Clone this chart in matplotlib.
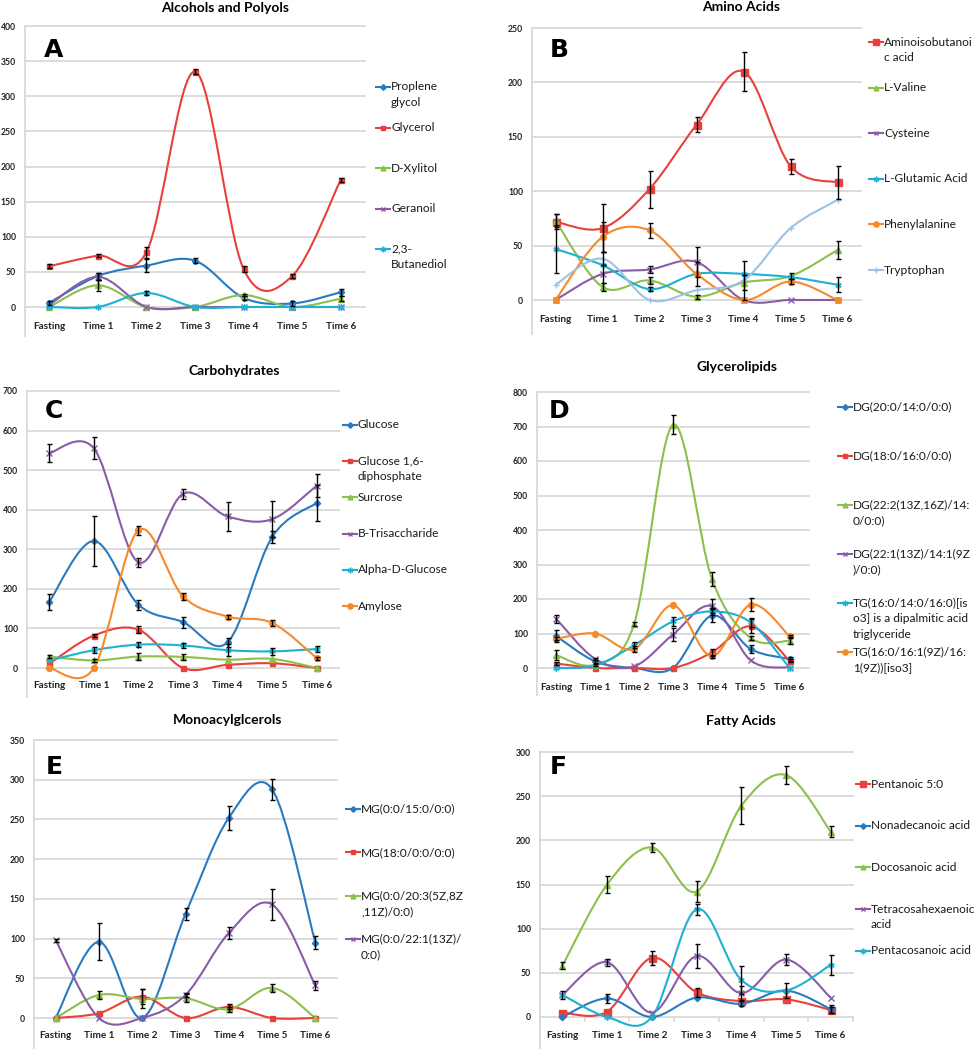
import numpy as np
import matplotlib
matplotlib.use('Agg')
import matplotlib.pyplot as plt
from matplotlib.path import Path
from matplotlib.patches import PathPatch
from matplotlib.lines import Line2D

plt.rcParams['font.family'] = ['Lato', 'DejaVu Sans']

# ---------------------------  DATA  -------------------------------------- #
times = ['Fasting', 'Time 1', 'Time 2', 'Time 3', 'Time 4', 'Time 5', 'Time 6']

# A - Alcohols and Polyols
propylene = [6, 44, 59, 66, 13, 5, 21]
propylene_err = [3, 5, 9, 4, 3, 3, 5]
glycerol = [58, 73, 78, 335, 54, 44, 181]
glycerol_err = [3, 2, 8, 4, 4, 3, 3]
xylitol = [0, 31, 0, 0, 17, 0, 12]
xylitol_err = [0, 8, 0, 0, 2, 0, 3]
geranoil = [3, 43, 0, 0, 0, 0, 0]
geranoil_err = [0, 5, 0, 0, 0, 0, 0]
butanediol = [0, 0, 20, 0, 0, 0, 0]
butanediol_err = [0, 0, 3, 0, 0, 0, 0]

# B - Amino Acids
aminoiso = [72, 66, 102, 161, 210, 123, 108]
aminoiso_err = [7, 22, 17, 7, 18, 7, 15]
valine = [73, 12, 18, 3, 16, 22, 46]
valine_err = [6, 4, 3, 2, 7, 3, 8]
cysteine = [0, 24, 28, 35, 0, 0, 0]
cysteine_err = [0, 8, 3, 14, 0, 0, 0]
glutamic = [47, 32, 10, 24, 24, 21, 14]
glutamic_err = [22, 0, 2, 0, 0, 0, 7]
phenyl = [0, 58, 64, 24, 0, 17, 0]
phenyl_err = [0, 14, 7, 11, 0, 2, 0]
tryptophan = [14, 38, 0, 9, 18, 66, 92]
tryptophan_err = [0, 6, 0, 0, 18, 0, 0]

# C - Carbohydrates
glucose = [167, 321, 160, 116, 65, 331, 417]
glucose_err = [20, 63, 13, 14, 12, 15, 45]
glucose16 = [11, 82, 97, 0, 8, 12, 0]
glucose16_err = [0, 4, 8, 0, 0, 0, 0]
surcrose = [29, 19, 29, 28, 21, 23, 0]
surcrose_err = [3, 3, 8, 8, 0, 0, 0]
btris = [543, 555, 267, 440, 383, 376, 461]
btris_err = [22, 28, 12, 12, 37, 45, 30]
alphaglc = [19, 45, 59, 57, 45, 42, 48]
alphaglc_err = [0, 7, 6, 6, 15, 8, 8]
amylose = [0, 0, 348, 181, 130, 114, 25]
amylose_err = [0, 0, 12, 8, 5, 7, 4]

# D - Glycerolipids
dg1 = [92, 19, 0, 0, 152, 55, 26]
dg1_err = [18, 5, 0, 0, 18, 12, 5]
dg2 = [13, 0, 0, 0, 45, 121, 21]
dg2_err = [3, 0, 0, 0, 10, 20, 5]
dg3 = [37, 10, 128, 705, 259, 87, 79]
dg3_err = [15, 3, 5, 28, 20, 5, 8]
dg4 = [142, 26, 5, 97, 179, 22, 1]
dg4_err = [12, 3, 0, 20, 20, 0, 0]
tg1 = [0, 7, 66, 135, 164, 132, 0]
tg1_err = [0, 0, 8, 14, 10, 12, 0]
tg2 = [85, 100, 55, 182, 34, 184, 92]
tg2_err = [5, 0, 8, 0, 5, 18, 3]

# E - Monoacylglcerols
mg1 = [0, 96, 0, 131, 252, 288, 95]
mg1_err = [0, 23, 0, 8, 15, 13, 8]
mg2 = [0, 6, 27, 0, 14, 0, 0]
mg2_err = [0, 0, 10, 0, 3, 0, 0]
mg3 = [0, 29, 24, 25, 11, 38, 0]
mg3_err = [0, 5, 12, 5, 3, 5, 0]
mg4 = [98, 0, 0, 29, 107, 143, 41]
mg4_err = [2, 0, 0, 3, 8, 20, 6]

# F - Fatty Acids
pentanoic = [5, 6, 67, 28, 18, 20, 8]
pentanoic_err = [0, 0, 8, 5, 0, 0, 3]
nonadec = [0, 21, 0, 22, 15, 30, 9]
nonadec_err = [0, 5, 0, 0, 3, 8, 5]
docos = [58, 150, 192, 142, 239, 274, 210]
docos_err = [4, 10, 5, 12, 21, 10, 6]
tetracos = [25, 62, 5, 69, 27, 65, 22]
tetracos_err = [5, 4, 0, 14, 8, 6, 0]
pentacos = [25, 0, 0, 122, 42, 30, 59]
pentacos_err = [0, 0, 0, 6, 16, 0, 11]

# ---------------------------  STYLE  -------------------------------------- #
BLUE = ('#2A7AC0', 'D')
RED = ('#E8413C', 's')
GREEN = ('#8CC04B', '^')
PURPLE = ('#8A5CA8', 'x')
CYAN = ('#1FB0D2', (6, 2, 0))
ORANGE = ('#F58A2C', 'o')
LIGHT = ('#9CC2E5', '+')
GRID = '#D9D9D9'

W, H = 975, 1050
fig = plt.figure(figsize=(W / 100, H / 100), dpi=100)


def fx(px):
    return px / W


def fy(py):
    return 1 - py / H


def msize(marker, big):
    base = {'D': 3.2, 's': 3.6, '^': 3.8, 'x': 3.8, 'o': 4.2, '+': 4.5}
    s = base.get(marker, 4.5) if isinstance(marker, str) else 4.5
    return s * (1.4 if big and marker == 's' else 1.0)


def smooth(ax, xs, ys, color):
    # Excel-like smoothed line: cubic bezier through every point
    pts = np.column_stack([xs, ys]).astype(float)
    n = len(pts)
    verts = [pts[0]]
    codes = [Path.MOVETO]
    for i in range(n - 1):
        p0 = pts[max(i - 1, 0)]
        p1 = pts[i]
        p2 = pts[i + 1]
        p3 = pts[min(i + 2, n - 1)]
        verts += [p1 + (p2 - p0) / 6, p2 - (p3 - p1) / 6, p2]
        codes += [Path.CURVE4] * 3
    ax.add_patch(PathPatch(Path(verts, codes), fill=False, edgecolor=color,
                           lw=1.5, zorder=3))


def panel(box, ymax, ystep, title, title_xy, letter, letter_xy, series,
          label_px, legend_x, legend_y, legend_gap, ticks=False, big=False):
    left, right, ytop, y0, yb = box
    ppu = (y0 - ytop) / ymax
    ymin = -(yb - y0) / ppu
    ax = fig.add_axes([fx(left), fy(yb), (right - left) / W, (yb - ytop) / H])
    ax.set_xlim(0, len(times))
    ax.set_ylim(ymin, ymax)
    for s in ['top', 'right', 'bottom']:
        ax.spines[s].set_visible(False)
    ax.spines['left'].set_color(GRID)
    ax.spines['left'].set_linewidth(1.3)
    yt = list(range(0, ymax + 1, ystep))
    for v in yt:
        ax.axhline(v, color=GRID, lw=1.3, zorder=1, clip_on=False)
    ax.set_yticks(yt)
    ax.set_yticklabels([str(v) for v in yt], fontsize=6.2, fontweight='bold',
                       color='#222222')
    ax.tick_params(axis='y', length=0, pad=6.5)
    ax.set_xticks([])
    xs = np.arange(len(times)) + 0.5
    for i, t in enumerate(times):
        ax.text(xs[i], (y0 - label_px) / ppu, t, ha='center', va='center',
                fontsize=7.2, fontweight='bold', color='#222222')
    if ticks:
        for i in range(len(times) + 1):
            ax.plot([i, i], [0, -4 / ppu], color=GRID, lw=1.2, clip_on=False)

    for k, (name, vals, errs, style) in enumerate(series):
        color, marker = style
        vals = np.array(vals, float)
        errs = np.array(errs, float)
        smooth(ax, xs, vals, color)
        ax.plot(xs, vals, ls='none', marker=marker, color=color,
                ms=msize(marker, big), mew=1.0, zorder=4)
        m = errs > 0
        ax.errorbar(xs[m], vals[m], yerr=errs[m], fmt='none', ecolor='black',
                    elinewidth=1.0, capsize=1.8, capthick=1.0, zorder=5)
        # legend entry
        ly = legend_y + k * legend_gap
        fig.add_artist(Line2D([fx(legend_x), fx(legend_x + 14)], [fy(ly), fy(ly)],
                              color=color, lw=1.5))
        fig.add_artist(Line2D([fx(legend_x + 7)], [fy(ly)], ls='none',
                              marker=marker, color=color, ms=msize(marker, big) * 0.9,
                              mew=1.0))
        for j, line in enumerate(name.split('\n')):
            fig.text(fx(legend_x + 15), fy(ly + j * 15.8), line, ha='left',
                     va='center', fontsize=8.6, color='#1a1a1a')

    fig.text(fx(title_xy[0]), fy(title_xy[1]), title, ha='center', va='center',
             fontsize=10, fontweight='bold')
    fig.text(fx(letter_xy[0]), fy(letter_xy[1]), letter, ha='center', va='center',
             fontsize=18, fontweight='heavy', family='DejaVu Sans')
    return ax


# ---------------------------  PANELS  -------------------------------------- #
panel((25, 365, 26, 307, 336), 400, 50, 'Alcohols and Polyols', (225, 8),
      'A', (54, 50),
      [('Proplene\nglycol', propylene, propylene_err, BLUE),
       ('Glycerol', glycerol, glycerol_err, RED),
       ('D-Xylitol', xylitol, xylitol_err, GREEN),
       ('Geranoil', geranoil, geranoil_err, PURPLE),
       ('2,3-\nButanediol', butanediol, butanediol_err, CYAN)],
      326, 376, 87, 40.5)

panel((532, 861, 28, 300, 334), 250, 50, 'Amino Acids', (741, 7),
      'B', (559, 50),
      [('Aminoisobutanoi\nc acid', aminoiso, aminoiso_err, RED),
       ('L-Valine', valine, valine_err, GREEN),
       ('Cysteine', cysteine, cysteine_err, PURPLE),
       ('L-Glutamic Acid', glutamic, glutamic_err, CYAN),
       ('Phenylalanine', phenyl, phenyl_err, ORANGE),
       ('Tryptophan', tryptophan, tryptophan_err, LIGHT)],
      319, 869, 42, 45.6, big=True)

panel((27, 339, 391, 668, 697), 700, 100, 'Carbohydrates', (234, 371),
      'C', (54, 411),
      [('Glucose', glucose, glucose_err, BLUE),
       ('Glucose 1,6-\ndiphosphate', glucose16, glucose16_err, RED),
       ('Surcrose', surcrose, surcrose_err, GREEN),
       ('B-Trisaccharide', btris, btris_err, PURPLE),
       ('Alpha-D-Glucose', alphaglc, alphaglc_err, CYAN),
       ('Amylose', amylose, amylose_err, ORANGE)],
      685, 343, 425, 36.2)

panel((537, 809, 392, 668, 695), 800, 100, 'Glycerolipids', (737, 367),
      'D', (559, 411),
      [('DG(20:0/14:0/0:0)', dg1, dg1_err, BLUE),
       ('DG(18:0/16:0/0:0)', dg2, dg2_err, RED),
       ('DG(22:2(13Z,16Z)/14:\n0/0:0)', dg3, dg3_err, GREEN),
       ('DG(22:1(13Z)/14:1(9Z\n)/0:0)', dg4, dg4_err, PURPLE),
       ('TG(16:0/14:0/16:0)[is\no3] is a dipalmitic acid\ntriglyceride', tg1, tg1_err, CYAN),
       ('TG(16:0/16:1(9Z)/16:\n1(9Z))[iso3]', tg2, tg2_err, ORANGE)],
      687, 838, 407, 49)

panel((34, 337, 740, 1018, 1048), 350, 50, 'Monoacylglcerols', (228, 720),
      'E', (54, 767),
      [('MG(0:0/15:0/0:0)', mg1, mg1_err, BLUE),
       ('MG(18:0/0:0/0:0)', mg2, mg2_err, RED),
       ('MG(0:0/20:3(5Z,8Z\n,11Z)/0:0)', mg3, mg3_err, GREEN),
       ('MG(0:0/22:1(13Z)/\n0:0)', mg4, mg4_err, PURPLE)],
      1036, 346, 809, 43.3)

panel((540, 853, 752, 1017, 1048), 300, 50, 'Fatty Acids', (741, 721),
      'F', (558, 767),
      [('Pentanoic 5:0', pentanoic, pentanoic_err, RED),
       ('Nonadecanoic acid', nonadec, nonadec_err, BLUE),
       ('Docosanoic acid', docos, docos_err, GREEN),
       ('Tetracosahexaenoic\nacid', tetracos, tetracos_err, PURPLE),
       ('Pentacosanoic acid', pentacos, pentacos_err, CYAN)],
      1035, 856, 784, 41.7, ticks=True, big=True)

fig.savefig('out.png', dpi=100)
